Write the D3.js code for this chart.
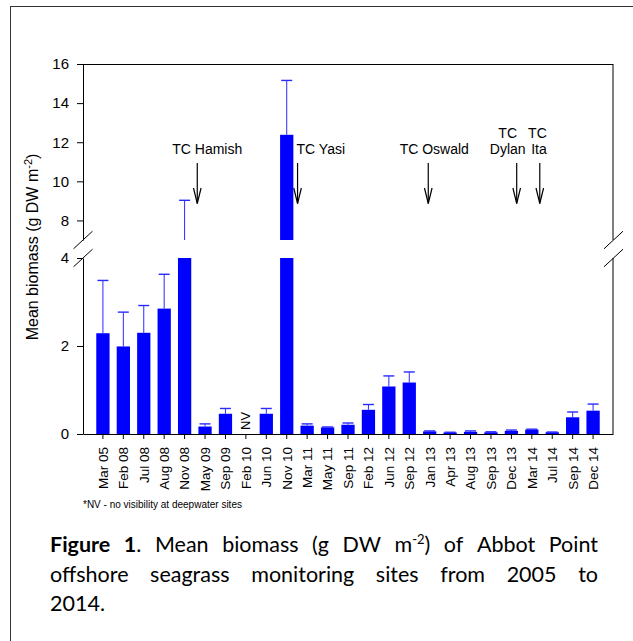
<!DOCTYPE html>
<html>
<head>
<meta charset="utf-8">
<script src="https://cdn.jsdelivr.net/npm/d3@7"></script>
<style>
  body { margin: 0; background: #fff; }
  svg { display: block; }
  .axis text { font-family: "Liberation Sans", Arial, sans-serif; fill: #000; }
  .axis path, .axis line { stroke: #000; }
</style>
</head>
<body>
<svg id="chart" width="633" height="641"></svg>
<script>
// sampling dates
var cats = ["Mar 05", "Feb 08", "Jul 08", "Aug 08", "Nov 08", "May 09", "Sep 09", "Feb 10", "Jun 10", "Nov 10",
            "Mar 11", "May 11", "Sep 11", "Feb 12", "Jun 12", "Sep 12", "Jan 13", "Apr 13", "Aug 13", "Sep 13",
            "Dec 13", "Mar 14", "Jul 14", "Sep 14", "Dec 14"];
// mean biomass (g DW m-2), null = NV
var means = [2.29, 1.99, 2.30, 2.85, 5.5, 0.17, 0.46, null, 0.46, 12.38,
             0.19, 0.15, 0.21, 0.55, 1.08, 1.17, 0.06, 0.035, 0.05, 0.04,
             0.07, 0.10, 0.04, 0.38, 0.53];
// standard error (drawn upward only)
var errs = [1.20, 0.78, 0.62, 0.78, 3.53, 0.06, 0.12, null, 0.12, 2.78,
            0.04, 0.01, 0.04, 0.12, 0.24, 0.24, 0.01, 0.005, 0.02, 0.01,
            0.02, 0.01, 0.005, 0.12, 0.15];
var upperTicks = [8, 10, 12, 14, 16];
var lowerTicks = [0, 2, 4];
// cyclones: position given as fractional index along the sampling dates
var cycNames = [["TC Hamish"], ["TC Yasi"], ["TC Oswald"], ["TC", "Dylan"], ["TC", "Ita"]];
var cycAt = [4.62, 9.53, 15.93, 20.26, 21.39];

var font = '"Liberation Sans", Arial, sans-serif';
var svg = d3.select("#chart");

// outer figure frame
svg.append("rect")
  .attr("x", 10.5).attr("y", 6.5)
  .attr("width", 700).attr("height", 700)
  .attr("fill", "none").attr("stroke", "#333").attr("stroke-width", 1);

var pLeft = 83, pRight = 613, pTop = 64, upBottom = 240, loTop = 258, pBottom = 434;

var x = d3.scaleBand().domain(cats).range([pLeft, pRight])
  .paddingInner(0.35).paddingOuter(0.65);
var xi = d3.scaleLinear().domain([0, cats.length - 1])
  .range([x(cats[0]) + x.bandwidth() / 2, x(cats[cats.length - 1]) + x.bandwidth() / 2]);

var yUp = d3.scaleLinear().domain([7, 16]).range([upBottom, pTop]);
var yLo = d3.scaleLinear().domain([0, 4]).range([pBottom, loTop]);

var data = cats.map(function(c, i) { return { cat: c, v: means[i], e: errs[i] }; })
  .filter(function(d) { return d.v != null; });

// draw bars + error bars in one axis segment, clipped to its domain
function segment(y) {
  var lo = y.domain()[0], hi = y.domain()[1];
  var g = svg.append("g");
  var bw = x.bandwidth();

  g.selectAll("rect.bar")
    .data(data.filter(function(d) { return d.v > lo; }))
    .enter().append("rect")
      .attr("class", "bar")
      .attr("x", function(d) { return x(d.cat); })
      .attr("width", bw)
      .attr("y", function(d) { return y(Math.min(d.v, hi)); })
      .attr("height", function(d) { return y(Math.max(lo, 0)) - y(Math.min(d.v, hi)); })
      .attr("fill", "#0000ff");

  var eb = data.filter(function(d) { return d.v + d.e > lo && d.v < hi; });
  g.selectAll("line.err")
    .data(eb)
    .enter().append("line")
      .attr("x1", function(d) { return x(d.cat) + bw / 2; })
      .attr("x2", function(d) { return x(d.cat) + bw / 2; })
      .attr("y1", function(d) { return y(Math.max(d.v, lo)); })
      .attr("y2", function(d) { return y(Math.min(d.v + d.e, hi)); })
      .attr("stroke", "#2a2aff").attr("stroke-width", 1);

  g.selectAll("line.cap")
    .data(eb.filter(function(d) { return d.v + d.e <= hi; }))
    .enter().append("line")
      .attr("x1", function(d) { return x(d.cat) + bw / 2 - 5.5; })
      .attr("x2", function(d) { return x(d.cat) + bw / 2 + 5.5; })
      .attr("y1", function(d) { return y(d.v + d.e); })
      .attr("y2", function(d) { return y(d.v + d.e); })
      .attr("stroke", "#2a2aff").attr("stroke-width", 1.4);
}
segment(yUp);
segment(yLo);

// y axes (broken)
[[yUp, upperTicks], [yLo, lowerTicks]].forEach(function(p) {
  var ax = svg.append("g").attr("class", "axis")
    .attr("transform", "translate(" + pLeft + ",0)")
    .call(d3.axisLeft(p[0]).tickValues(p[1]).tickFormat(d3.format("d"))
      .tickSize(6).tickSizeOuter(0).tickPadding(8));
  ax.selectAll("text").style("font-size", "15px");
  // right side frame line
  svg.append("line")
    .attr("x1", pRight).attr("x2", pRight)
    .attr("y1", p[0].range()[0]).attr("y2", p[0].range()[1])
    .attr("stroke", "#000");
});

// top frame line
svg.append("line")
  .attr("x1", pLeft).attr("x2", pRight).attr("y1", pTop + 0.5).attr("y2", pTop + 0.5)
  .attr("stroke", "#000");

// break marks
[pLeft, pRight + 0.5].forEach(function(ax) {
  [upBottom, loTop].forEach(function(yy) {
    svg.append("line")
      .attr("x1", ax - 9.5).attr("y1", yy + 8.8)
      .attr("x2", ax + 9.5).attr("y2", yy - 8.8)
      .attr("stroke", "#000").attr("stroke-width", 1);
  });
});

// x axis
var xa = svg.append("g").attr("class", "axis")
  .attr("transform", "translate(0," + pBottom + ")")
  .call(d3.axisBottom(x).tickSize(5).tickSizeOuter(0));
xa.selectAll("text")
  .attr("transform", "rotate(-90)")
  .attr("x", -13).attr("y", 0).attr("dy", "0.36em")
  .style("text-anchor", "end")
  .style("font-size", "13.5px");

// NV marker
cats.forEach(function(c, i) {
  if (means[i] == null) {
    svg.append("text")
      .attr("transform", "translate(" + (x(c) + x.bandwidth() / 2 + 4.5) + "," + (pBottom - 4) + ") rotate(-90)")
      .attr("font-family", font).attr("font-size", 13)
      .text("NV");
  }
});

// y axis title
var yt = svg.append("text")
  .attr("transform", "translate(37.5,247) rotate(-90)")
  .attr("text-anchor", "middle")
  .attr("font-family", font).attr("font-size", 16);
yt.append("tspan").text("Mean biomass (g DW m");
yt.append("tspan").attr("dy", -6).attr("font-size", 11).text("-2");
yt.append("tspan").attr("dy", 6).text(")");

// cyclone arrows and labels
var labAnchor = ["middle", "start", "middle", "middle", "end"];
var labDx = [10, -1, 6, -9, 7];
cycNames.forEach(function(lines, i) {
  var ax = xi(cycAt[i]);
  var g = svg.append("g").attr("stroke", "#000").attr("stroke-width", 1.2).attr("fill", "none");
  g.append("line").attr("x1", ax).attr("x2", ax).attr("y1", 163).attr("y2", 203.5);
  g.append("polyline")
    .attr("points", [[ax - 3.8, 188], [ax, 203.5], [ax + 3.8, 188]].join(" "));
  lines.forEach(function(t, j) {
    svg.append("text")
      .attr("x", ax + labDx[i])
      .attr("y", 154 - (lines.length - 1 - j) * 16)
      .attr("text-anchor", labAnchor[i])
      .attr("font-family", font).attr("font-size", 14)
      .text(t);
  });
});

// footnote
svg.append("text")
  .attr("x", 83).attr("y", 508)
  .attr("font-family", font).attr("font-size", 10)
  .text("*NV - no visibility at deepwater sites");

// caption, justified like the source document
var capLines = [
  [[["Figure", "b"]], [["1", "b"], ["."]], [["Mean"]], [["biomass"]], [["(g"]], [["DW"]],
   [["m"], ["-2", "sup"], [")"]], [["of"]], [["Abbot"]], [["Point"]]],
  [[["offshore"]], [["seagrass"]], [["monitoring"]], [["sites"]], [["from"]], [["2005"]], [["to"]]],
  [[["2014."]]]
];
var capY = [552, 582, 611];
capLines.forEach(function(words, li) {
  var nodes = words.map(function(segs) {
    var t = svg.append("text")
      .attr("y", capY[li])
      .attr("font-family", "Lato, 'Open Sans', sans-serif")
      .attr("font-size", 21.5).attr("fill", "#000");
    var shifted = false;
    segs.forEach(function(s) {
      var ts = t.append("tspan").text(s[0]);
      if (s[1] === "b") ts.attr("font-weight", "bold");
      if (s[1] === "sup") { ts.attr("dy", -8).attr("font-size", 13); shifted = true; }
      else if (shifted) { ts.attr("dy", 8); shifted = false; }
    });
    return t;
  });
  var widths = nodes.map(function(t) { return t.node().getComputedTextLength(); });
  var total = d3.sum(widths);
  var gap = (li < 2 && nodes.length > 1) ? (598 - 50 - total) / (nodes.length - 1) : 5;
  var cx = 50;
  nodes.forEach(function(t, k) {
    t.attr("x", cx);
    cx += widths[k] + gap;
  });
});
</script>
</body>
</html>
